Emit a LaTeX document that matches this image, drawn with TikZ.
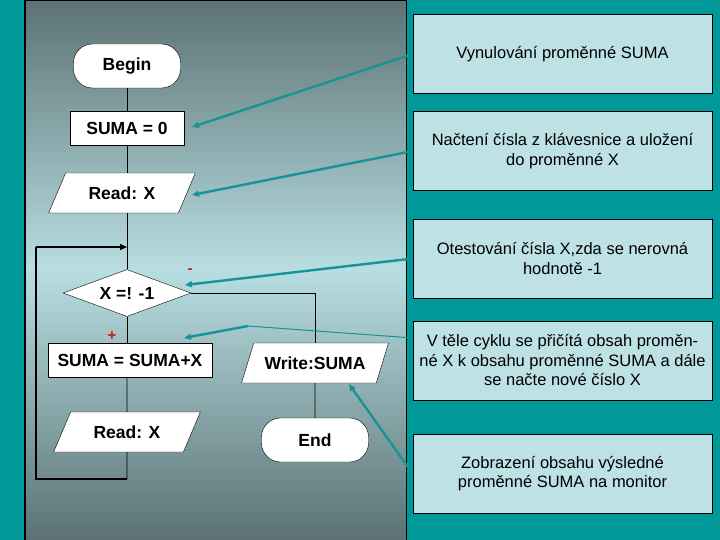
\documentclass[tikz,border=0pt]{standalone}
\usepackage{fontspec}
\setmainfont{Liberation Sans}
\usetikzlibrary{shapes.geometric,arrows.meta}
\definecolor{bgteal}{RGB}{0,153,153}
\definecolor{paneldark}{RGB}{92,114,116}
\definecolor{panellight}{RGB}{184,222,226}
\definecolor{boxfill}{RGB}{190,225,230}
\definecolor{arrteal}{RGB}{22,148,150}
\definecolor{signred}{RGB}{220,20,20}
\tikzset{
  ftext/.style={font=\fontsize{17.5}{20}\selectfont\bfseries, inner sep=0pt},
  procbox/.style={ftext, draw=black, fill=white, rectangle, minimum height=34pt},
  termbox/.style={ftext, draw=black, fill=white, rectangle, rounded corners=19pt, minimum width=107pt, minimum height=44pt},
  iobox/.style={ftext, draw=black, fill=white, trapezium, trapezium left angle=52, trapezium right angle=128, trapezium stretches=true, minimum width=147pt, minimum height=40pt},
  decbox/.style={ftext, draw=black, fill=white, diamond, aspect=2.7, minimum width=128pt, minimum height=47pt},
  notebox/.style={draw=black, fill=boxfill, rectangle, minimum width=299pt, minimum height=79pt, align=center, font=\fontsize{16.5}{19.5}\selectfont, inner sep=0pt},
  flow/.style={draw=black, line width=0.8pt},
  loopline/.style={draw=black, line width=1.4pt},
  tealarrow/.style={draw=arrteal, line width=2.4pt, -{Triangle[length=7pt,width=6pt]}},
  tealthin/.style={draw=arrteal, line width=1pt},
  sign/.style={text=signred, font=\fontsize{15}{15}\selectfont\bfseries, inner sep=0pt}
}
\begin{document}
\begin{tikzpicture}[x=1pt,y=-1pt]
\useasboundingbox (0,0) rectangle (720,540);
\fill[bgteal] (0,0) rectangle (720,540);
\shade[top color=paneldark, bottom color=paneldark, middle color=panellight] (25,0) rectangle (406,540);
\draw[black, line width=1.5pt] (25,0) -- (25,540);
\draw[black, line width=1pt] (406,0) -- (406,540);
\draw[black, line width=1pt] (25,0.5) -- (406,0.5);

% flowchart
\node[termbox] (begin) at (127,66) {Begin};
\node[procbox, minimum width=114pt] (suma0) at (127,128) {SUMA = 0};
\node[iobox] (read1) at (122,193) {Read: X};
\node[decbox] (dec) at (127,293) {X =! -1};
\node[procbox, minimum width=164pt] (sumax) at (130,360) {SUMA = SUMA+X};
\node[iobox] (read2) at (127,432) {Read: X};
\node[iobox] (write) at (315,363) {Write:SUMA};
\node[termbox] (end) at (315,440) {End};

\node[sign] (minus) at (190,271) {-};
\node[sign] (plus) at (112,336) {+};

\coordinate (lb) at (127,479);
\coordinate (lbl) at (36,479);
\coordinate (ltl) at (36,247);
\coordinate (lj) at (127,247);

\draw[flow] (begin.south) -- (suma0.north);
\draw[flow] (suma0.south) -- (suma0.south |- read1.north);
\draw[flow] (suma0.south |- read1.south) -- (dec.north);
\draw[flow] (dec.south) -- (dec.south |- sumax.north);
\draw[flow] (dec.south |- sumax.south) -- (read2.north);
\draw[flow] (read2.south) -- (lb);
\draw[loopline] (lb) -- (lbl) -- (ltl);
\draw[loopline, -{Triangle[length=7pt,width=6pt]}] (ltl) -- (lj);
\draw[flow] (dec.east) -| (write.north);
\draw[flow] (write.south) -- (end.north);

% notes
\node[notebox] (n1) at (562.5,54) {Vynulování proměnné SUMA};
\node[notebox] (n2) at (562.5,151) {Načtení čísla z klávesnice a uložení\\do proměnné X};
\node[notebox] (n3) at (562.5,258.5) {Otestování čísla X,zda se nerovná\\hodnotě -1};
\node[notebox] (n4) at (562.5,360.5) {V těle cyklu se přičítá obsah proměn-\\né X k obsahu proměnné SUMA a dále\\se načte nové číslo X};
\node[notebox] (n5) at (562.5,473.5) {Zobrazení obsahu výsledné\\proměnné SUMA na monitor};

\coordinate (a1) at (192,127);
\coordinate (a2) at (192,195);
\coordinate (a3) at (185,285);
\coordinate (a4) at (184,338);
\coordinate (k4) at (248,326);
\coordinate (s4) at (413,338);
\coordinate (a5) at (349,384);
\coordinate (s5) at (410,470);

\draw[tealarrow] (n1.west) -- (a1);
\draw[tealarrow] (n2.west) -- (a2);
\draw[tealarrow] (n3.west) -- (a3);
\draw[tealthin] (s4) -- (k4);
\draw[tealarrow] (k4) -- (a4);
\draw[tealarrow] (s5) -- (a5);
\end{tikzpicture}
\end{document}
